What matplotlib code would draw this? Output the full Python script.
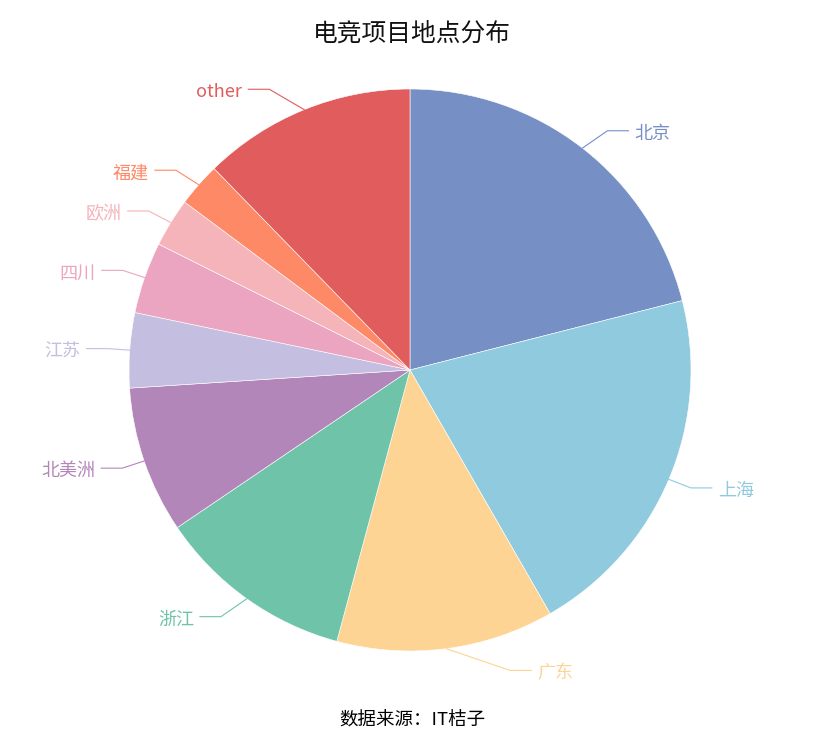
import numpy as np
import matplotlib
matplotlib.use("Agg")
import matplotlib.pyplot as plt

plt.rcParams['font.family'] = ['Noto Sans CJK SC', 'DejaVu Sans']

# ── data (clockwise from 12 o'clock) ───────────────────────────────────────────
names  = ["北京", "上海", "广东", "浙江", "北美洲", "江苏", "四川", "欧洲", "福建", "other"]
values = [75.7, 74.4, 45.0, 40.8, 30.4, 15.5, 14.8, 10.1, 9.1, 44.2]
colors = ["#768fc5", "#90cade", "#fdd493", "#6fc3a8", "#b386b9",
          "#c4bee0", "#eba5c1", "#f5b4b9", "#fd8966", "#e05c5d"]

W, H = 824, 749
cx, cy, R = 410, H - 370, 281
LEN1, LEN2, GAP = 22, 21, 6      # label line: radial part, horizontal part, text gap

fig = plt.figure(figsize=(W / 100, H / 100), dpi=100)
ax = fig.add_axes([0, 0, 1, 1])

wedges, _ = ax.pie(values, colors=colors, startangle=90, counterclock=False,
                   center=(cx, cy), radius=R,
                   wedgeprops=dict(edgecolor="white", linewidth=0.4))
ax.set_xlim(0, W)
ax.set_ylim(0, H)
ax.set_aspect("equal")
ax.axis("off")

# ── labels with elbow lines (echarts-like layout) ──────────────────────────────
for w, name, col in zip(wedges, names, colors):
    ang = np.deg2rad((w.theta1 + w.theta2) / 2)
    dx, dy = np.cos(ang), np.sin(ang)
    side = 1 if dx >= 0 else -1
    p0 = (cx + R * dx, cy + R * dy)
    ly = cy + (R + LEN1) * dy
    rt = R + LEN1 + LEN2
    end_x = cx + side * np.sqrt(max(rt ** 2 - (ly - cy) ** 2, 0))
    elbow_x = end_x - side * LEN2
    ax.plot([p0[0], elbow_x, end_x], [p0[1], ly, ly], color=col, lw=0.8)
    ax.text(end_x + side * GAP, ly - 3, name, color=col, fontsize=13,
            ha="left" if side > 0 else "right", va="center")

fig.text(0.5, 1 - 34 / H, "电竞项目地点分布", ha="center", va="center",
         fontsize=17.8, color="#111111")
fig.text(0.5, 1 - 721 / H, "数据来源：IT桔子", ha="center", va="center",
         fontsize=13.3, color="#000000")

fig.savefig("out.png", dpi=100, facecolor="white")
